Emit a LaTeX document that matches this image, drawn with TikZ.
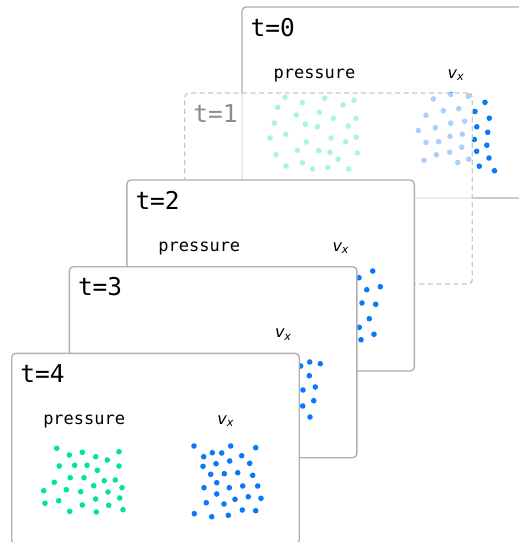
\documentclass[tikz,border=0pt]{standalone}
\usepackage{fontspec}
\newfontfamily\monofam{DejaVu Sans Mono}
\newfontfamily\sansfam{DejaVu Sans}
\definecolor{panelgray}{HTML}{B0B0B0}
\definecolor{dashgray}{HTML}{C8C8C8}
\definecolor{pgreen}{HTML}{00E88C}
\definecolor{vblue}{HTML}{0A78F8}
\definecolor{labgray}{HTML}{8C8C8C}
\tikzset{
  panel/.style={draw=panelgray, line width=1.4pt, rounded corners=4pt, fill=white,
    minimum width=287.5pt, minimum height=191pt, anchor=north west, inner sep=0pt, outer sep=0pt},
  ghostpanel/.style={panel, draw=dashgray, dash pattern=on 5pt off 3.5pt, fill opacity=0.66, draw opacity=1},
  tlabel/.style={font=\monofam\fontsize{24.5}{24.5}\selectfont, anchor=base west, inner sep=0pt},
  plabel/.style={font=\monofam\fontsize{17}{17}\selectfont, anchor=base, inner sep=0pt},
  vlabel/.style={font=\sansfam\itshape\fontsize{16}{16}\selectfont, anchor=base, inner sep=0pt},
  gdot/.style={fill=pgreen},
  bdot/.style={fill=vblue},
}
\newcommand{\vxtext}{v\textsubscript{x}}
\begin{document}
\begin{tikzpicture}[x=1pt,y=-1pt]
\clip (0,0) rectangle (519,542);
% ---------- t=0 ----------
\node[panel] (p0) at (242,7) {};
\node[tlabel] (l0) at ([shift={(8.5,29)}]p0.north west) {t=0};
\node[plabel] (pr0) at ([shift={(72.5,71.3)}]p0.north west) {pressure};
\node[vlabel] (vx0) at ([shift={(214,71)}]p0.north west) {\vxtext};
\foreach \x/\y in {285/97.3, 324.7/98.3, 354/100.3, 302.3/102.7, 343/105, 277.7/107.3, 319.3/112.3, 296.3/115, 356/118.3, 333.3/118.3, 274.3/123, 305.3/124.3, 317.3/126.7, 348.3/126, 285.7/134.3, 270/138, 331/138, 356.3/137.3, 306.3/142, 345.7/141.7, 297.3/150.3, 318.7/150.7, 330/152.3, 357.3/153, 276/154.7, 338/159.3, 302.3/162.7, 286/166, 327.7/167.3, 312.7/169, 348.7/169}
  \fill[gdot] (\x,\y) circle (2.8);
\foreach \x/\y in {433.3/99, 450.7/94.5, 468.3/96.3, 426/115.2, 443.3/110.8, 458.7/108.7, 418.3/130.5, 435.3/127.7, 450.7/123.2, 464.7/121.2, 426/142.3, 438.7/141.7, 450/136.3, 462.3/134.2, 424/160.2, 436.3/154.7, 449.7/152.2, 461.7/147.2, 457.8/162.5, 468.7/159.2, 485/102.3, 475/111.5, 489.3/118.2, 476.8/126.8, 487.7/132.3, 474.3/139.5, 486.8/145.2, 476.6/151.3, 489/158, 479.3/166.2, 494.5/170.7}
  \fill[bdot] (\x,\y) circle (2.8);
% ---------- t=1 ----------
\node[ghostpanel] (p1) at (184.7,93) {};
\node[tlabel, text=labgray] (l1) at ([shift={(8.5,29)}]p1.north west) {t=1};
% ---------- t=2 ----------
\node[panel] (p2) at (126.8,180) {};
\node[tlabel] (l2) at ([shift={(8.5,29)}]p2.north west) {t=2};
\node[plabel] (pr2) at ([shift={(72.5,71.3)}]p2.north west) {pressure};
\node[vlabel] (vx2) at ([shift={(214,71)}]p2.north west) {\vxtext};
\foreach \x/\y in {372.7/271, 359/277.7, 366.7/289.7, 380.3/286.7, 362/303, 375.7/304.3, 369.3/318.7, 359.3/327.3, 374/334.3, 361/339.7, 345/280, 338/300, 350/320, 342/335}
  \fill[bdot] (\x,\y) circle (2.8);
% ---------- t=3 ----------
\node[panel] (p3) at (69.3,266.7) {};
\node[tlabel] (l3) at ([shift={(8.5,29)}]p3.north west) {t=3};
\node[vlabel] (vx3) at ([shift={(214,71)}]p3.north west) {\vxtext};
\foreach \x/\y in {300.7/366, 309.7/362, 320.3/363.7, 309.3/375.7, 303/390, 315.3/387, 302.7/406, 313.7/400.7, 310/417, 290/380, 292/400}
  \fill[bdot] (\x,\y) circle (2.8);
% ---------- t=4 ----------
\node[panel] (p4) at (11.7,353.3) {};
\node[tlabel] (l4) at ([shift={(8.5,29)}]p4.north west) {t=4};
\node[plabel] (pr4) at ([shift={(72.5,71.3)}]p4.north west) {pressure};
\node[vlabel] (vx4) at ([shift={(214,71)}]p4.north west) {\vxtext};
\foreach \x/\y in {56.7/448.3, 69.3/455, 82.3/452.3, 95.7/456.7, 107.3/460, 119/451.7, 59.3/466, 74.7/465.3, 87/465.3, 97.3/470.3, 119/466, 70.3/477.7, 84/477.7, 54.3/482.3, 104.3/480.7, 115.3/480, 93.7/485.7, 122/487.7, 43.7/490.7, 66.3/489.7, 80.7/491.7, 108/492, 45/503.3, 58.7/500.7, 95.7/499, 119.7/498, 82.3/505, 108.7/505.3, 69.7/511.3, 96.3/512, 123/509.7}
  \fill[gdot] (\x,\y) circle (2.8);
\foreach \x/\y in {194/446, 230.7/446, 255.7/447.7, 203.7/456.7, 212.3/452.7, 221.7/453, 241.7/455.7, 229.7/461, 203/466.3, 216/463.7, 249.7/463.3, 210.7/474.3, 224.3/473.7, 237.7/472.7, 252.7/475.3, 216.7/482.7, 204/487.7, 229.3/487.7, 242.7/486, 257.7/486, 216.7/494, 248.3/496.7, 261/498.3, 206.3/502.7, 224/504, 235/499.3, 194.3/513.7, 211.7/516.7, 228.3/515.3, 242.3/510, 255.7/510.7}
  \fill[bdot] (\x,\y) circle (2.8);
\end{tikzpicture}
\end{document}
